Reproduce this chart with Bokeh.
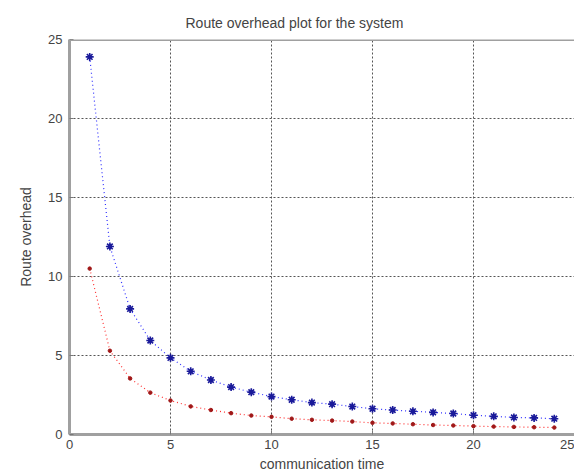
from bokeh.plotting import figure
from bokeh.models import Range1d, FixedTicker, Span
from bokeh.embed import file_html
from bokeh.resources import INLINE

comm_time = list(range(1, 25))
overhead_blue = [23.9, 11.9, 7.95, 5.95, 4.85, 4.0, 3.45, 3.0, 2.68, 2.4, 2.2, 2.02,
                 1.92, 1.77, 1.63, 1.55, 1.47, 1.4, 1.33, 1.22, 1.15, 1.08, 1.05, 1.0]
overhead_red = [10.5, 5.3, 3.55, 2.65, 2.15, 1.78, 1.55, 1.35, 1.2, 1.12, 1.0, 0.93,
                0.88, 0.82, 0.74, 0.7, 0.65, 0.6, 0.57, 0.53, 0.5, 0.48, 0.46, 0.44]
tick_values = [0, 5, 10, 15, 20, 25]
y_max = 25

FONT = "Liberation Sans"
TXT = "#444444"
BORDER = "#a0a0a0"

p = figure(frame_width=505, frame_height=395, output_backend="svg", toolbar_location=None,
           x_range=Range1d(0, 25), y_range=Range1d(0, y_max),
           title="Route overhead plot for the system")
p.min_border_left = 69
p.min_border_right = 0
p.min_border_top = 39
p.min_border_bottom = 41
p.background_fill_color = "white"
p.border_fill_color = "white"
p.outline_line_color = None

p.title.text_font = FONT
p.title.text_font_size = "14px"
p.title.text_font_style = "normal"
p.title.text_color = TXT
p.title.align = "left"
p.title.offset = 116
p.title.standoff = 18

bottom_axis = p.below[0]
left_axis = p.left[0]

for ax in (bottom_axis, left_axis):
    ax.ticker = FixedTicker(ticks=tick_values)
    ax.axis_line_color = BORDER
    ax.axis_line_width = 3
    ax.major_tick_in = 4
    ax.major_tick_out = 0
    ax.major_tick_line_color = "#777777"
    ax.minor_tick_line_color = None
    ax.major_label_text_font = FONT
    ax.major_label_text_font_size = "13px"
    ax.major_label_text_color = TXT
    ax.axis_label_text_font = FONT
    ax.axis_label_text_font_size = "14px"
    ax.axis_label_text_font_style = "normal"
    ax.axis_label_text_color = TXT

bottom_axis.axis_label = "communication time"
left_axis.axis_label = "Route overhead"
bottom_axis.major_label_standoff = 5
bottom_axis.axis_label_standoff = 4
left_axis.major_label_standoff = 7
left_axis.axis_label_standoff = 11

top_border = Span(location=y_max, dimension="width", line_color=BORDER, line_width=3)
p.add_layout(top_border)

for g in (p.xgrid, p.ygrid):
    g.ticker = FixedTicker(ticks=[5, 10, 15, 20])
    g.grid_line_color = "#555555"
    g.grid_line_dash = "2 2"
    g.grid_line_width = 1

p.line(comm_time, overhead_blue, line_color="#3030ff", line_dash="1 3", line_width=1.2)
p.scatter(comm_time, overhead_blue, marker="asterisk", size=8, line_color="#1a1a9a", line_width=1.6)
p.scatter(comm_time, overhead_blue, marker="diamond", size=5, fill_color="#1a1a9a", line_color="#1a1a9a")

p.line(comm_time, overhead_red, line_color="#ff3030", line_dash="1 3", line_width=1.2)
p.scatter(comm_time, overhead_red, marker="circle", size=3.5, fill_color="#a01818", line_color="#a01818")

open("out.html", "w").write(file_html(p, INLINE))
